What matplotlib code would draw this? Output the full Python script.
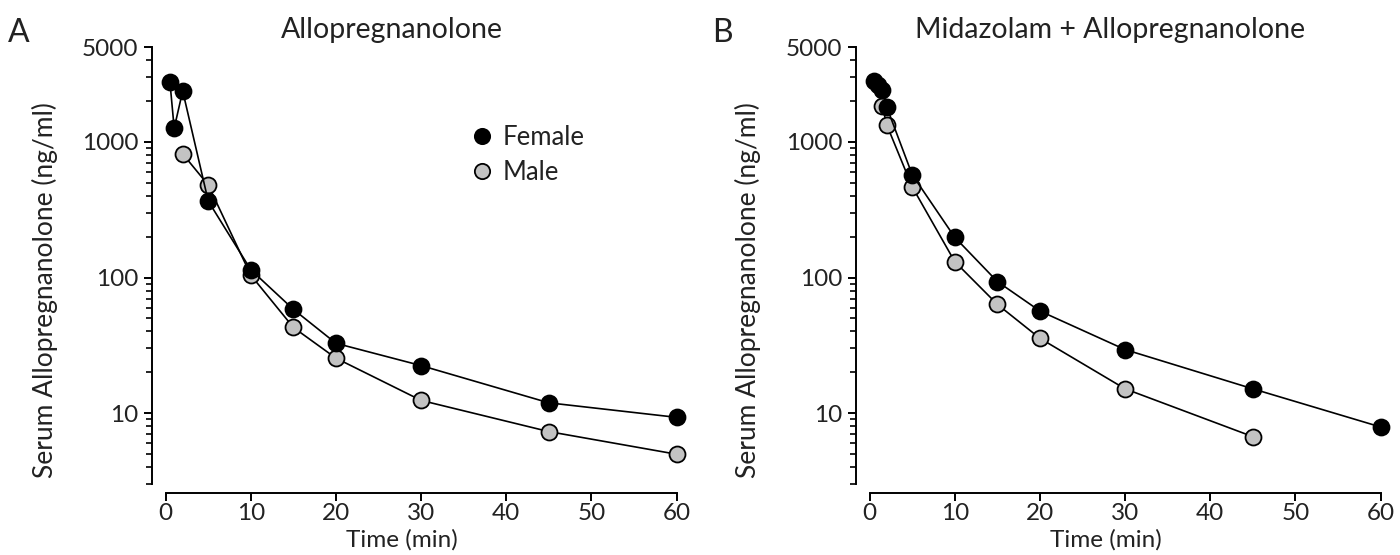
import matplotlib
matplotlib.use('Agg')
import matplotlib.pyplot as plt
from matplotlib.lines import Line2D
from matplotlib.ticker import FixedLocator, LogLocator, NullFormatter, FixedFormatter

plt.rcParams['font.family'] = ['Lato', 'DejaVu Sans']

# Panel A: Allopregnanolone
a_female_t = [0.5, 1, 2, 5, 10, 15, 20, 30, 45, 60]
a_female_v = [2770, 1262, 2377, 366, 114, 58.2, 32.7, 22.4, 11.9, 9.3]
a_male_t = [2, 5, 10, 15, 20, 30, 45, 60]
a_male_v = [816, 481, 104, 42.8, 25.4, 12.4, 7.3, 4.97]

# Panel B: Midazolam + Allopregnanolone
b_female_t = [0.5, 1, 1.5, 2, 5, 10, 15, 20, 30, 45, 60]
b_female_v = [2810, 2625, 2430, 1820, 574, 198, 93.4, 56.6, 29.4, 15.1, 7.9]
b_male_t = [1.5, 2, 5, 10, 15, 20, 30, 45]
b_male_v = [1840, 1344, 467, 131, 63.4, 35.6, 15.1, 6.7]

x_ticks = [0, 10, 20, 30, 40, 50, 60]
y_ticks = [10, 100, 1000, 5000]
y_labels = ['10', '100', '1000', '5000']

txt = '#222222'
grey = '#c3c3c3'

fig = plt.figure(figsize=(14, 5.55), dpi=100)
ax_a = fig.add_axes([0.1086, 0.128, 0.382, 0.787])
ax_b = fig.add_axes([0.6114, 0.128, 0.382, 0.787])


def draw_panel(ax, ft, fv, mt, mv):
    ax.plot(mt, mv, color='black', lw=1.2, marker='o', ms=11.5,
            mfc=grey, mec='black', mew=1.3, zorder=3)
    ax.plot(ft, fv, color='black', lw=1.2, marker='o', ms=11.5,
            mfc='black', mec='black', mew=1.3, zorder=4)
    ax.set_yscale('log')
    ax.set_ylim(3, 5000)
    ax.set_xlim(-1.6, 61.2)
    ax.yaxis.set_major_locator(FixedLocator(y_ticks))
    ax.yaxis.set_major_formatter(FixedFormatter(y_labels))
    ax.yaxis.set_minor_locator(LogLocator(base=10, subs=range(2, 10), numticks=20))
    ax.yaxis.set_minor_formatter(NullFormatter())
    ax.set_xticks(x_ticks)
    for s in ['top', 'right']:
        ax.spines[s].set_visible(False)
    ax.spines['bottom'].set_position(('outward', 6.5))
    ax.spines['bottom'].set_bounds(0, 60)
    for s in ['left', 'bottom']:
        ax.spines[s].set_linewidth(1.4)
    ax.tick_params(which='major', length=6, width=1.4, labelsize=17.5,
                   labelcolor=txt, pad=4)
    ax.tick_params(axis='x', which='major', pad=1)
    ax.tick_params(which='minor', length=4, width=1.2)


draw_panel(ax_a, a_female_t, a_female_v, a_male_t, a_male_v)
draw_panel(ax_b, b_female_t, b_female_v, b_male_t, b_male_v)

handles = [
    Line2D([], [], ls='none', marker='o', ms=11, mfc='black', mec='black', mew=1.3),
    Line2D([], [], ls='none', marker='o', ms=11, mfc=grey, mec='black', mew=1.3),
]
ax_a.legend(handles, ['Female', 'Male'], loc='upper left',
            bbox_to_anchor=(0.555, 0.875), frameon=False, fontsize=18.5,
            handlelength=0.8, handletextpad=0.4, labelspacing=0.38,
            labelcolor=txt)

# titles, panel letters, axis labels
fig.text(392 / 1400, 1 - 30 / 555, 'Allopregnanolone', ha='center', va='center',
         fontsize=20.5, color=txt)
fig.text(1110 / 1400, 1 - 30 / 555, 'Midazolam + Allopregnanolone', ha='center',
         va='center', fontsize=20.5, color=txt)
fig.text(8 / 1400, 1 - 33 / 555, 'A', ha='left', va='center', fontsize=23, color=txt)
fig.text(712 / 1400, 1 - 33 / 555, 'B', ha='left', va='center', fontsize=23, color=txt)

for xl in [45, 748]:
    fig.text(xl / 1400, 1 - 290 / 555, 'Serum Allopregnanolone (ng/ml)', rotation=90,
             ha='center', va='center', fontsize=19, color=txt)
for xc in [402, 1106]:
    fig.text(xc / 1400, 1 - 540 / 555, 'Time (min)', ha='center', va='center',
             fontsize=17.5, color=txt)

fig.savefig('out.png', dpi=100)
